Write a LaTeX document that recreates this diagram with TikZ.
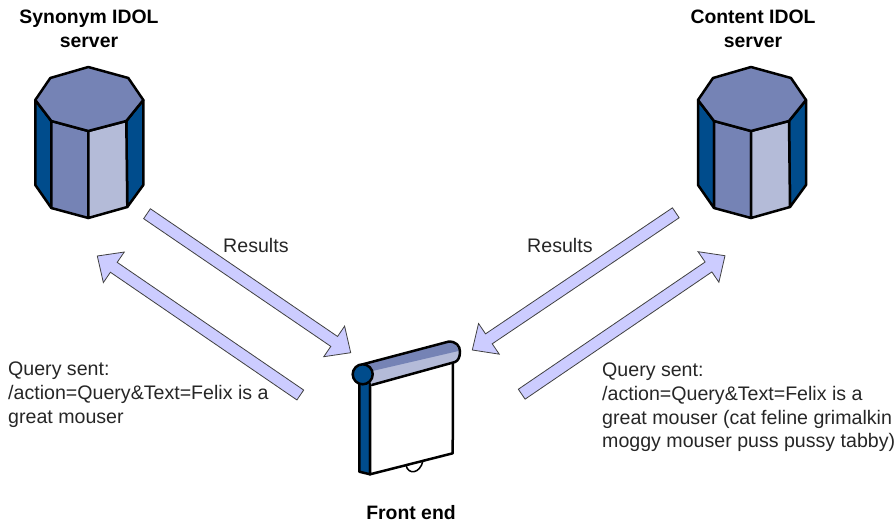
\documentclass[tikz,border=0pt]{standalone}
\usepackage{fontspec}
\setmainfont{Liberation Sans}
\usetikzlibrary{calc,positioning}

\definecolor{serverTop}{HTML}{7583B5}
\definecolor{serverLight}{HTML}{B4BBD8}
\definecolor{serverDark}{HTML}{004C8C}
\definecolor{arrowFill}{HTML}{CCCCFF}

\tikzset{
  outline/.style={draw=black, line width=2.5pt, line join=round},
  blockArrow/.style={draw=black!75, line width=0.8pt, fill=arrowFill, line join=miter},
  label/.style={inner sep=0pt, font=\fontsize{19.6}{23.7}\selectfont, text=black!85, align=left},
  title/.style={inner sep=0pt, font=\fontsize{19.4}{24}\selectfont\bfseries, align=center},
  pics/server/.style={code={
    \draw[outline, fill=serverDark] (-53,0) -- (-53,85) -- (-37,108) -- (-37,21) -- cycle;
    \draw[outline, fill=serverDark] (55,0) -- (55,85) -- (39,107) -- (38,21) -- cycle;
    \draw[outline, fill=serverTop] (-37,21) -- (0,31) -- (0,118) -- (-37,108) -- cycle;
    \draw[outline, fill=serverLight] (38,21) -- (0,31) -- (0,118) -- (39,107) -- cycle;
    \draw[outline, fill=serverTop] (0,-33) -- (40,-22) -- (55,0) -- (38,21) -- (0,31)
      -- (-37,21) -- (-53,0) -- (-38,-22) -- cycle;
  }}
}

% block arrow from tail to tip
\newcommand{\blockarrow}[2]{
  \draw[blockArrow]
    let \p1 = ($(#2)-(#1)$), \n1 = {atan2(\y1,\x1)} in
    [shift={(#2)}, rotate=\n1]
    (0,0) -- (-20,18.5) -- (-20,6)
    -- ($(-{veclen(\x1,\y1)},6)$) -- ($(-{veclen(\x1,\y1)},-6)$)
    -- (-20,-6) -- (-20,-18.5) -- cycle;
}

\begin{document}
\begin{tikzpicture}[x=1pt, y=-1pt]
  \useasboundingbox (0,0) rectangle (896,524);

  \pic (synonymServer) at (88.3,100) {server};
  \pic (contentServer) at (751,100) {server};

  \node[title] (synonymTitle) at (89,29) {Synonym IDOL\\server};
  \node[title] (contentTitle) at (753,29) {Content IDOL\\server};
  \node[title] (frontEndTitle) at (411,513) {Front end};

  % front end
  \draw[outline, fill=serverDark] (359.3,380) -- (359.3,471.7) -- (370,474.3) -- (370,380) -- cycle;
  \draw[outline, fill=white, line width=1.5pt] (406,465.2) .. controls (408,475) and (420,474) .. (423,460.8);
  \draw[outline, fill=white] (370,385) -- (370,474.3) -- (452.7,453.3) -- (453,360) -- cycle;
  \fill[serverLight] (362,364.5) -- (448.3,341.7)
    .. controls (456,341) and (460,346) .. (460,351.7)
    .. controls (460,357) and (458,361) .. (455,362) -- (371.7,385) -- cycle;
  \fill[serverTop] (366,364) -- (448.3,342) .. controls (454,342) and (458,346) .. (458.5,351)
    -- (368,372) -- cycle;
  \draw[outline] (362,364.5) -- (448.3,341.7)
    .. controls (456,341) and (460,346) .. (460,351.7)
    .. controls (460,357) and (458,361) .. (455,362) -- (371.7,385);
  \draw[outline, fill=serverDark] (362.7,374.3) circle (10);

  \coordinate (resultsLeftTail) at (147,213.7);
  \coordinate (resultsLeftTip) at (350.7,352.7);
  \coordinate (queryLeftTail) at (300.3,395);
  \coordinate (queryLeftTip) at (97.3,256);
  \coordinate (resultsRightTail) at (675.8,212.8);
  \coordinate (resultsRightTip) at (472.3,350);
  \coordinate (queryRightTail) at (521.7,394.2);
  \coordinate (queryRightTip) at (725,255.7);

  \blockarrow{resultsLeftTail}{resultsLeftTip}
  \blockarrow{queryLeftTail}{queryLeftTip}
  \blockarrow{resultsRightTail}{resultsRightTip}
  \blockarrow{queryRightTail}{queryRightTip}

  \node[label, anchor=west] (resultsLeftLabel) at (223,245) {Results};
  \node[label, anchor=west] (resultsRightLabel) at (527,245) {Results};
  \node[label, anchor=north west] (queryLeftLabel) at (8,362) {Query sent:\\/action=Query\&Text=Felix is a\\great mouser};
  \node[label, anchor=north west] (queryRightLabel) at (602,363) {Query sent:\\/action=Query\&Text=Felix is a\\great mouser (cat feline grimalkin\\moggy mouser puss pussy tabby)};
\end{tikzpicture}
\end{document}
